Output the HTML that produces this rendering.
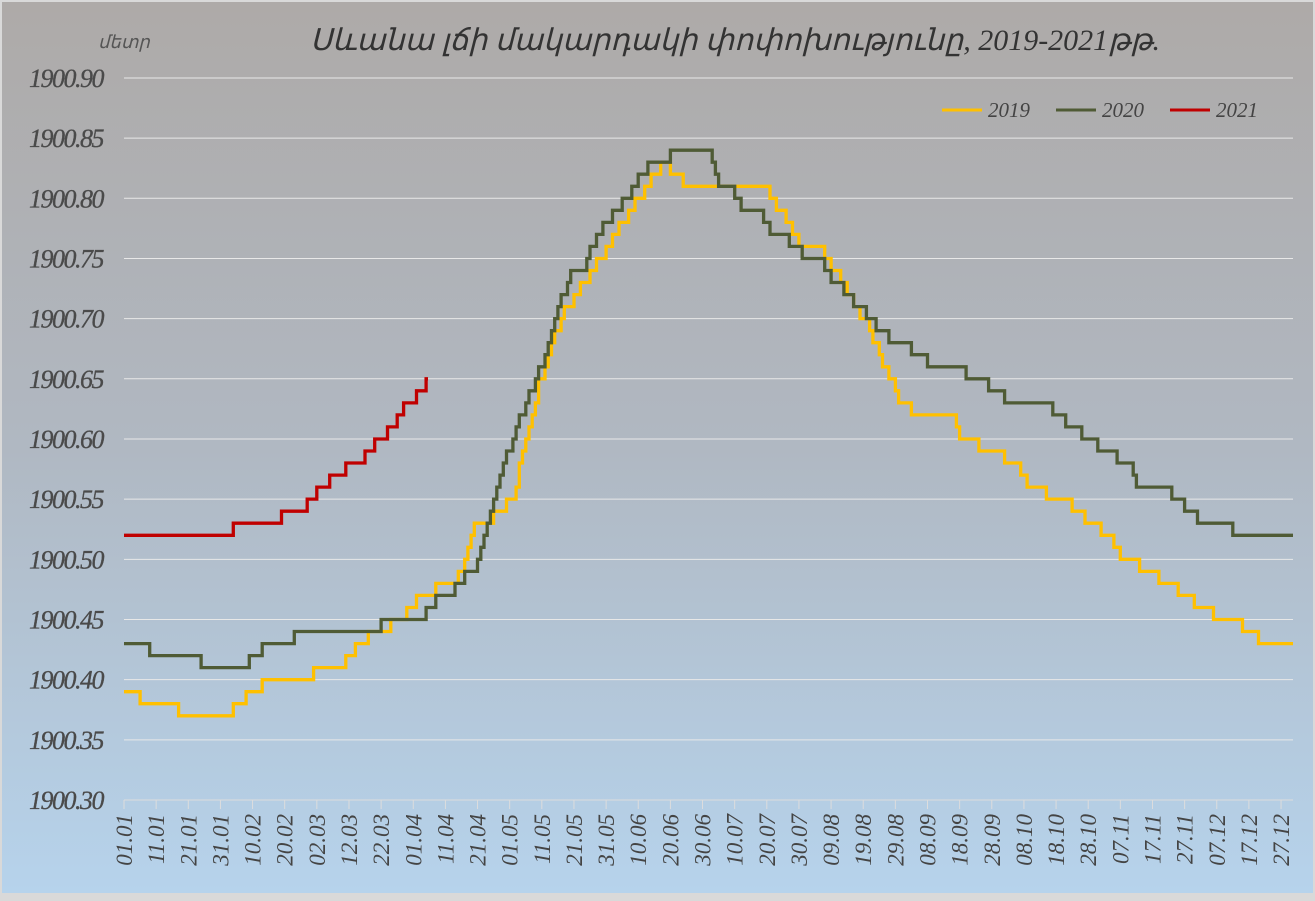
<!DOCTYPE html>
<html><head><meta charset="utf-8"><style>
html,body{margin:0;padding:0}
body{width:1315px;height:896px;overflow:hidden;background:#d9d9d9}
</style></head><body>
<svg id="s" width="1315" height="896" xmlns="http://www.w3.org/2000/svg" font-family="Liberation Serif, serif" font-style="italic">
<defs>
<linearGradient id="bg" x1="0" y1="0" x2="0" y2="1">
<stop offset="0" stop-color="#aeaaa8"/><stop offset="0.5" stop-color="#b0b8c2"/><stop offset="1" stop-color="#b6d3ec"/>
</linearGradient>
</defs>
<rect x="2" y="2" width="1311" height="891" fill="url(#bg)"/>
<text x="98" y="48" font-size="18" fill="#555">մետր</text>
<text x="735" y="50" font-size="30" fill="#333" text-anchor="middle">Սևանա լճի մակարդակի փոփոխությունը, 2019-2021թթ.</text>
<g id="grid"></g>
<g id="lines" fill="none" stroke-width="3.3" stroke-linejoin="miter"></g>
<g font-size="21" fill="#444">
<line x1="942" y1="110" x2="982" y2="110" stroke="#ffc000" stroke-width="3"/><text x="988" y="117">2019</text>
<line x1="1056" y1="110" x2="1096" y2="110" stroke="#4f5b35" stroke-width="3"/><text x="1102" y="117">2020</text>
<line x1="1170" y1="110" x2="1210" y2="110" stroke="#c00000" stroke-width="3"/><text x="1216" y="117">2021</text>
</g>
</svg>
<script>
const NS="http://www.w3.org/2000/svg";
const s=document.getElementById('s'),g=document.getElementById('grid'),L=document.getElementById('lines');
function el(t,a,p,txt){const e=document.createElementNS(NS,t);for(const k in a)e.setAttribute(k,a[k]);if(txt)e.textContent=txt;p.appendChild(e);return e;}
const X0=124,DX=3.214,Y0=800,PY=1203.4;
function Y(v){return Y0-(v-0.30)*PY;}
for(let i=0;i<=12;i++){const v=0.30+i*0.05,y=Y(v);
 if(i>0)el('line',{x1:X0,x2:1293,y1:y,y2:y,stroke:'#e8e8e8','stroke-width':1},g);
 el('text',{x:103,y:y+9,'font-size':26,fill:'#4a4a4a','text-anchor':'end','letter-spacing':'-1.5','stroke':'#4a4a4a','stroke-width':0.3},g,'1900.'+(Math.round(v*100)+'').padStart(2,'0'));}
el('line',{x1:X0,x2:1293,y1:Y0,y2:Y0,stroke:'#ddd','stroke-width':1},g);
const labs=["01.01","11.01","21.01","31.01","10.02","20.02","02.03","12.03","22.03","01.04","11.04","21.04","01.05","11.05","21.05","31.05","10.06","20.06","30.06","10.07","20.07","30.07","09.08","19.08","29.08","08.09","18.09","28.09","08.10","18.10","28.10","07.11","17.11","27.11","07.12","17.12","27.12"];
labs.forEach((l,i)=>{const x=X0+i*32.14;
 el('line',{x1:x,x2:x,y1:Y0,y2:Y0+9,stroke:'#ddd','stroke-width':1},g);
 el('text',{x:0,y:0,'font-size':23,fill:'#444','text-anchor':'end',transform:`translate(${x+8},814) rotate(-90)`},g,l);});
function series(kp,color,xend){
 let d='',prev=null;
 for(let x=X0;x<=xend+0.01;x+=DX){
  let v=kp[kp.length-1][1];
  for(let i=0;i<kp.length-1;i++){if(x>=kp[i][0]&&x<=kp[i+1][0]){const t=(x-kp[i][0])/(kp[i+1][0]-kp[i][0]||1);v=kp[i][1]+t*(kp[i+1][1]-kp[i][1]);break;}}
  v=Math.round(v*100)/100;const y=Y(v);
  if(prev===null)d='M'+x.toFixed(1)+' '+y.toFixed(1);
  else d+=' L'+x.toFixed(1)+' '+Y(prev).toFixed(1)+' L'+x.toFixed(1)+' '+y.toFixed(1);
  prev=v;}
 d+=' L'+xend+' '+Y(prev).toFixed(1);
 el('path',{d:d,stroke:color},L);}
function steps(arr){const k=[];arr.forEach(a=>{k.push([a[0],a[2]]);k.push([a[1],a[2]]);});return k;}
const y2019=steps([[124,136,.39],[138,176,.38],[179,231,.37],[234,242,.38],[245,258,.39],[261,312,.40],[315,343,.41],[346,351,.42],[354,365,.43],[368,387,.44],[390,403,.45],[406,412,.46],[415,432,.47],[435,454,.48],[457,462,.49],[464,465,.50],[467,468,.51],[470,472,.52],[475,489,.53],[492,504,.54],[507,512,.55]]).concat([[540,.65],[560,.70],[600,.75],[637,.80],[655,.82],[662,.83],[667,.83],[670,.82],[681,.82],[684,.81],[767,.81],[772,.80],[780,.79],[788,.78],[795,.77],[802,.76],[820,.76],[825,.75],[835,.74],[870,.69],[900,.63],[908,.63],[912,.62],[953,.62],[957,.61],[962,.60],[976,.60],[980,.59],[1000,.59],[1004,.58],[1018,.58],[1022,.57],[1030,.56],[1042,.56],[1045,.55],[1070,.55],[1073,.54],[1081,.54],[1084,.53],[1098,.53],[1101,.52],[1112,.52],[1115,.51],[1122,.50],[1135,.50],[1138,.49],[1155,.49],[1158,.48],[1175,.48],[1178,.47],[1190,.47],[1193,.46],[1212,.46],[1215,.45],[1240,.45],[1243,.44],[1257,.44],[1260,.43],[1300,.43]]);
const y2020=steps([[124,148,.43],[151,199,.42],[202,247,.41],[250,259,.42],[262,290,.43],[293,377,.44],[380,424,.45],[427,434,.46],[437,451,.47],[454,462,.48],[465,474,.49]]).concat([[493,.55],[512,.60],[540,.66],[555,.70],[570,.74],[583,.74],[597,.77],[625,.80],[642,.82],[652,.83],[668,.83],[671,.84],[707,.84],[712,.83],[718,.81],[730,.81],[734,.80],[742,.79],[760,.79],[764,.78],[772,.77],[785,.77],[789,.76],[797,.76],[801,.75],[822,.75],[826,.74],[836,.73],[846,.72],[860,.71],[870,.70],[882,.69],[891,.68],[907,.68],[913,.67],[925,.67],[930,.66],[963,.66],[967,.65],[986,.65],[990,.64],[1000,.64],[1003,.63],[1050,.63],[1054,.62],[1061,.62],[1064,.61],[1079,.61],[1082,.60],[1095,.60],[1099,.59],[1113,.59],[1117,.58],[1129,.58],[1133,.57],[1139,.56],[1170,.56],[1173,.55],[1181,.55],[1184,.54],[1193,.54],[1197,.53],[1228,.53],[1232,.52],[1300,.52]]);
const y2021=steps([[124,231,.52],[234,279,.53],[282,305,.54],[308,314,.55],[317,325,.56],[328,342,.57],[345,362,.58],[365,370,.59],[373,385,.60],[388,393,.61],[396,400,.62],[403,413,.63],[416,424,.64],[427,430,.65]]);
series(y2019,'#ffc000',1293);
series(y2020,'#4f5b35',1293);
series(y2021,'#c00000',428);
</script>
</body></html>
